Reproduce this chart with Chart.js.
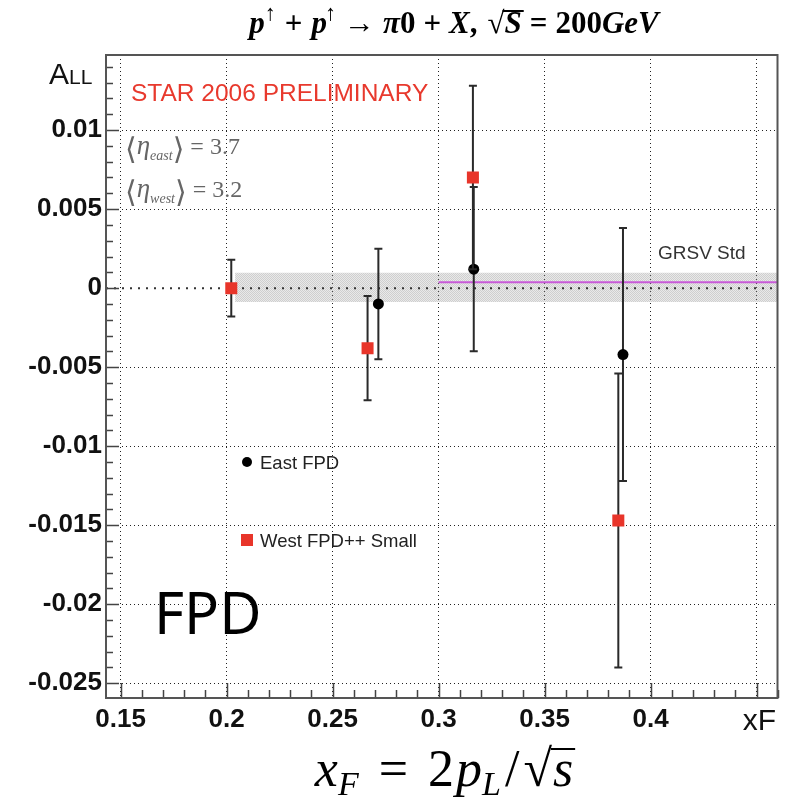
<!DOCTYPE html>
<html>
<head>
<meta charset="utf-8">
<script src="https://cdn.jsdelivr.net/npm/chart.js@4.4.0/dist/chart.umd.min.js"></script>
<style>
  html, body { margin: 0; padding: 0; background: #fff; }
  #wrap { width: 786px; height: 806px; position: relative; }
</style>
</head>
<body>
<div id="wrap"><canvas id="chart"></canvas></div>
<script>
// axis ticks
const xTicks = [0.15, 0.2, 0.25, 0.3, 0.35, 0.4, 0.45];
const xTickLabels = ["0.15", "0.2", "0.25", "0.3", "0.35", "0.4", ""];
const yTicks = [-0.025, -0.02, -0.015, -0.01, -0.005, 0, 0.005, 0.01];
const yTickLabels = ["-0.025", "-0.02", "-0.015", "-0.01", "-0.005", "0", "0.005", "0.01"];

// East FPD (black dots)
const eastX = [0.2716, 0.3166, 0.387];
const eastY = [-0.001, 0.0012, -0.0042];
const eastErr = [0.0035, 0.0052, 0.008];

// West FPD++ Small (red squares)
const westX = [0.2022, 0.2665, 0.3162, 0.3848];
const westY = [0.0, -0.0038, 0.007, -0.0147];
const westErr = [0.0018, 0.0033, 0.0058, 0.0093];

// GRSV Std band + curve
const bandX = [0.204, 0.46];
const bandLow = [-0.00088, -0.00088];
const bandHigh = [0.00098, 0.00098];
const grsvX = [0.3, 0.46];
const grsvY = [0.00038, 0.00038];
const zeroX = [0.1431, 0.46];
const zeroY = [0, 0];

const pts = (xs, ys) => xs.map((x, i) => ({ x: x, y: ys[i] }));

function hatch() {
  const c = document.createElement("canvas");
  c.width = 2; c.height = 2;
  const g = c.getContext("2d");
  g.fillStyle = "rgba(170,170,170,0.26)";
  g.fillRect(0, 0, 2, 2);
  g.fillStyle = "rgba(130,130,130,0.26)";
  g.fillRect(0, 0, 1, 1);
  g.fillRect(1, 1, 1, 1);
  return g.createPattern(c, "repeat");
}

// draw a row of text pieces with own fonts / offsets
function drawRuns(ctx, items, x, base, align) {
  let w = 0;
  items.forEach(r => {
    ctx.font = r.font;
    r.w = ctx.measureText(r.t).width;
    w += r.w + (r.gap || 0);
  });
  let cx = align === "center" ? x - w / 2 : x;
  items.forEach(r => {
    ctx.font = r.font;
    ctx.fillStyle = r.color || "#000";
    ctx.fillText(r.t, cx, base + (r.dy || 0));
    if (r.over) {
      ctx.fillRect(cx - 2, base - r.over, r.w + 4, r.ow || 1.5);
    }
    cx += r.w + (r.gap || 0);
  });
}

const errorBars = {
  id: "errorBars",
  beforeDatasetDraw(chart, args) {
    const ds = chart.data.datasets[args.index];
    if (!ds.errors) return;
    const { ctx, scales: { x, y } } = chart;
    ctx.save();
    ctx.strokeStyle = "#2a2a2a";
    ctx.lineWidth = 2;
    ds.data.forEach((p, i) => {
      const px = x.getPixelForValue(p.x);
      const top = y.getPixelForValue(p.y + ds.errors[i]);
      const bot = y.getPixelForValue(p.y - ds.errors[i]);
      ctx.beginPath();
      ctx.moveTo(px, top); ctx.lineTo(px, bot);
      ctx.moveTo(px - 4, top); ctx.lineTo(px + 4, top);
      ctx.moveTo(px - 4, bot); ctx.lineTo(px + 4, bot);
      ctx.stroke();
    });
    ctx.restore();
  }
};

const frame = {
  id: "frame",
  afterDatasetsDraw(chart) {
    const { ctx, chartArea: a, scales: { x, y } } = chart;
    ctx.save();
    ctx.strokeStyle = "#444";
    ctx.lineWidth = 1.5;
    ctx.beginPath();
    for (let k = 15; k <= 46; k++) {
      const px = Math.round(x.getPixelForValue(k / 100)) + 0.5;
      const len = k % 5 === 0 ? 15 : 8;
      ctx.moveTo(px, a.bottom); ctx.lineTo(px, a.bottom - len);
    }
    for (let k = -25; k <= 14; k++) {
      const py = Math.round(y.getPixelForValue(k / 1000)) + 0.5;
      const len = k % 5 === 0 ? 13 : 7;
      ctx.moveTo(a.left, py); ctx.lineTo(a.left + len, py);
    }
    ctx.stroke();
    ctx.strokeStyle = "#555";
    ctx.lineWidth = 2;
    ctx.strokeRect(a.left, a.top, a.right - a.left, a.bottom - a.top);
    ctx.restore();
  }
};

const texts = {
  id: "texts",
  afterDraw(chart) {
    const ctx = chart.ctx;
    ctx.save();
    ctx.textBaseline = "alphabetic";
    ctx.textAlign = "left";

    // title
    const F = "bold italic 31px 'Liberation Serif'";
    const B = "bold 31px 'Liberation Serif'";
    const S = "bold 22px 'Liberation Serif'";
    drawRuns(ctx, [
      { t: "p", font: F }, { t: "\u2191", font: S, dy: -13, gap: 9 },
      { t: "+", font: B, gap: 9 },
      { t: "p", font: F, gap: -2 }, { t: "\u2191", font: S, dy: -13, gap: 8 },
      { t: "\u2192", font: B, gap: 8 },
      { t: "\u03c0", font: F }, { t: "0", font: B, gap: 8 },
      { t: "+", font: B, gap: 8 }, { t: "X", font: F }, { t: ",", font: B, gap: 10 },
      { t: "\u221a", font: B }, { t: "S", font: F, over: 23, ow: 2, gap: 8 },
      { t: "=", font: B, gap: 8 }, { t: "200", font: B }, { t: "GeV", font: F }
    ], 454, 33, "center");

    // A_LL axis title
    ctx.fillStyle = "#111";
    ctx.font = "30px 'Liberation Sans'";
    ctx.fillText("A", 49, 84);
    const aw = ctx.measureText("A").width;
    ctx.font = "21px 'Liberation Sans'";
    ctx.fillText("LL", 49 + aw, 84);

    // preliminary label
    ctx.fillStyle = "#e8392d";
    ctx.font = "24.5px 'Liberation Sans'";
    ctx.fillText("STAR 2006 PRELIMINARY", 131, 101);

    // eta values
    const G = "#666";
    const br = "30px 'DejaVu Sans'";
    const eta = "italic 27px 'Liberation Serif'";
    const sub = "italic 14px 'Liberation Serif'";
    const num = "24px 'Liberation Serif'";
    drawRuns(ctx, [
      { t: "\u27e8", font: br, color: G, dy: 5 }, { t: "\u03b7", font: eta, color: G },
      { t: "east", font: sub, color: G, dy: 6 }, { t: "\u27e9", font: br, color: G, dy: 5 },
      { t: " = 3.7", font: num, color: G }
    ], 125, 154, "left");
    drawRuns(ctx, [
      { t: "\u27e8", font: br, color: G, dy: 5 }, { t: "\u03b7", font: eta, color: G },
      { t: "west", font: sub, color: G, dy: 6 }, { t: "\u27e9", font: br, color: G, dy: 5 },
      { t: " = 3.2", font: num, color: G }
    ], 125, 197, "left");

    // GRSV label
    ctx.fillStyle = "#333";
    ctx.font = "19px 'Liberation Sans'";
    ctx.fillText("GRSV Std", 658, 259);

    // legend
    const east = chart.data.datasets[0];
    const west = chart.data.datasets[1];
    ctx.fillStyle = east.backgroundColor;
    ctx.beginPath();
    ctx.arc(247, 462, 5, 0, Math.PI * 2);
    ctx.fill();
    ctx.fillStyle = west.backgroundColor;
    ctx.fillRect(241, 534, 12, 12);
    ctx.fillStyle = "#222";
    ctx.font = "18.5px 'Liberation Sans'";
    ctx.fillText(east.label, 260, 469);
    ctx.fillText(west.label, 260, 547);

    // big FPD
    ctx.fillStyle = "#000";
    ctx.font = "58px 'Noto Sans'";
    ctx.fillText("FPD", 154, 634);

    // x axis title
    ctx.fillStyle = "#111";
    ctx.font = "30px 'Liberation Sans'";
    ctx.textAlign = "right";
    ctx.fillText("xF", 776, 730);
    ctx.textAlign = "left";

    // formula below
    const FI = "italic 52px 'Liberation Serif'";
    const FR = "52px 'Liberation Serif'";
    const FS = "italic 34px 'Liberation Serif'";
    drawRuns(ctx, [
      { t: "x", font: FI }, { t: "F", font: FS, dy: 9, gap: 20 },
      { t: "=", font: FR, gap: 20 }, { t: "2", font: FR, gap: 2 }, { t: "p", font: FI },
      { t: "L", font: FS, dy: 9, gap: 4 },
      { t: "/", font: FR, gap: 4 }, { t: "\u221a", font: FR, gap: 1 }, { t: "s", font: FI, over: 38, ow: 2 }
    ], 444, 786, "center");
    ctx.restore();
  }
};

const tickFont = { family: "'Liberation Sans'", size: 26, weight: "bold" };

new Chart(document.getElementById("chart"), {
  type: "scatter",
  data: {
    datasets: [
      {
        label: "East FPD",
        data: pts(eastX, eastY),
        errors: eastErr,
        pointStyle: "circle",
        pointRadius: 5.5,
        backgroundColor: "#000",
        borderColor: "#000",
        borderWidth: 0,
        showLine: false,
        order: 1
      },
      {
        label: "West FPD++ Small",
        data: pts(westX, westY),
        errors: westErr,
        pointStyle: "rect",
        pointRadius: 8.5,
        backgroundColor: "#e8352a",
        borderColor: "#e8352a",
        borderWidth: 0,
        showLine: false,
        order: 0
      },
      {
        label: "band low",
        type: "line",
        data: pts(bandX, bandLow),
        borderWidth: 0,
        pointRadius: 0,
        fill: false,
        order: 5
      },
      {
        label: "band high",
        type: "line",
        data: pts(bandX, bandHigh),
        borderWidth: 0,
        pointRadius: 0,
        backgroundColor: hatch(),
        fill: "-1",
        order: 4
      },
      {
        label: "zero",
        type: "line",
        data: pts(zeroX, zeroY),
        borderColor: "#333",
        borderWidth: 2,
        borderDash: [2, 6],
        pointRadius: 0,
        fill: false,
        order: 3
      },
      {
        label: "GRSV Std",
        type: "line",
        data: pts(grsvX, grsvY),
        borderColor: "#c85ad8",
        borderWidth: 2,
        pointRadius: 0,
        fill: false,
        order: 2
      }
    ]
  },
  options: {
    responsive: true,
    maintainAspectRatio: false,
    animation: false,
    layout: { padding: { top: 55, right: 8, left: 0, bottom: 0 } },
    plugins: { legend: { display: false }, tooltip: { enabled: false } },
    scales: {
      x: {
        type: "linear",
        min: 0.1431,
        max: 0.4599,
        afterBuildTicks: s => { s.ticks = xTicks.map(v => ({ value: v })); },
        afterFit: s => { s.height = 108; },
        ticks: {
          font: tickFont, color: "#111", padding: 6, maxRotation: 0, autoSkip: false,
          callback: (v, i) => xTickLabels[i]
        },
        grid: { color: "#222", lineWidth: 1, drawTicks: false },
        border: { display: false, dash: [1, 3] }
      },
      y: {
        type: "linear",
        min: -0.02593,
        max: 0.01475,
        afterBuildTicks: s => { s.ticks = yTicks.map(v => ({ value: v })); },
        afterFit: s => { s.width = 106; },
        ticks: {
          font: tickFont, color: "#111", padding: 4, autoSkip: false,
          callback: (v, i) => yTickLabels[i]
        },
        grid: {
          color: c => (c.tick && c.tick.value === 0 ? "rgba(0,0,0,0)" : "#222"),
          lineWidth: 1, drawTicks: false
        },
        border: { display: false, dash: [1, 3] }
      }
    }
  },
  plugins: [errorBars, frame, texts]
});
</script>
</body>
</html>
